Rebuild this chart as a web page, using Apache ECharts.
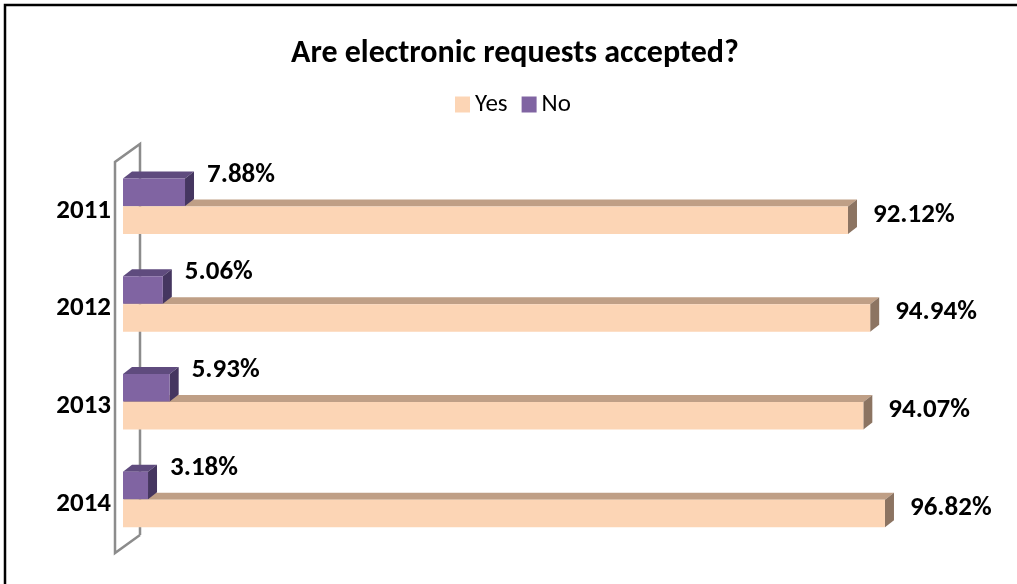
<!DOCTYPE html>
<html>
<head>
<meta charset="utf-8">
<script src="https://cdn.jsdelivr.net/npm/echarts@6/dist/echarts.min.js"></script>
<style>
  html, body { margin: 0; padding: 0; background: #fff; }
  #chart { width: 1017px; height: 584px; }
</style>
</head>
<body>
<div id="chart"></div>
<script>
const categories = ['2011', '2012', '2013', '2014'];
const yesValues = [92.12, 94.94, 94.07, 96.82];
const noValues = [7.88, 5.06, 5.93, 3.18];

const FONT = 'Carlito, Calibri, Lato, "Open Sans", sans-serif';
const DX = 9, DY = -7, H = 27.5;

function boxRender(frontOffset, front, top, side, labelDX, labelDY) {
  return function (params, api) {
    const v = api.value(0);
    const c = api.value(1);
    const p0 = api.coord([0, c]);
    const p1 = api.coord([v, c]);
    const x0 = p0[0], x1 = p1[0];
    const y0 = p0[1] + frontOffset;
    const y1 = y0 + H;
    return {
      type: 'group',
      children: [
        { type: 'polygon', shape: { points: [[x0, y0], [x0 + DX, y0 + DY], [x1 + DX, y0 + DY], [x1, y0]] }, style: { fill: top } },
        { type: 'polygon', shape: { points: [[x1, y0], [x1 + DX, y0 + DY], [x1 + DX, y1 + DY], [x1, y1]] }, style: { fill: side } },
        { type: 'rect', shape: { x: x0, y: y0, width: x1 - x0, height: H }, style: { fill: front } },
        { type: 'text', style: { text: v.toFixed(2) + '%', x: x1 + DX + labelDX, y: p0[1] + labelDY, font: 'bold 27px ' + FONT, fill: '#000', align: 'left', verticalAlign: 'middle' } }
      ]
    };
  };
}

function wallRender(params, api) {
  const cs = params.coordSys;
  const fx = cs.x - 8, bx = cs.x + 17, dy = -18;
  const top = cs.y, bot = cs.y + cs.height;
  return {
    type: 'polyline',
    shape: { points: [[bx, bot + dy], [bx, top + dy], [fx, top], [fx, bot], [bx, bot + dy]] },
    style: { stroke: '#8c8c8c', lineWidth: 2.5, fill: null }
  };
}

const chart = echarts.init(document.getElementById('chart'));
chart.setOption({
  animation: false,
  backgroundColor: '#fff',
  title: {
    text: 'Are electronic requests accepted?',
    left: 286,
    top: 33,
    textStyle: { fontFamily: FONT, fontWeight: 'bold', fontSize: 32, color: '#000' }
  },
  legend: {
    data: ['Yes', 'No'],
    top: 87,
    left: 450,
    icon: 'rect',
    itemWidth: 15,
    itemHeight: 16,
    itemGap: 14,
    textStyle: { fontFamily: FONT, fontSize: 25, color: '#000', padding: [0, 0, 0, 0] }
  },
  grid: { left: 123, right: 107, top: 162, bottom: 31 },
  xAxis: {
    type: 'value', min: 0, max: 100, show: false
  },
  yAxis: {
    type: 'category',
    data: categories,
    inverse: true,
    axisLine: { show: false },
    axisTick: { show: false },
    axisLabel: { margin: 12, fontFamily: FONT, fontWeight: 'bold', fontSize: 27, color: '#000' }
  },
  graphic: [{
    type: 'polyline',
    shape: { points: [[5, 600], [5, 5], [1030, 5]] },
    style: { stroke: '#000', lineWidth: 2.5, fill: null },
    silent: true
  }],
  series: [
    {
      name: 'wall', type: 'custom', renderItem: wallRender,
      data: [[0, categories[0]]], encode: { x: 0, y: 1 }, z: 1, silent: true
    },
    {
      name: 'Yes', type: 'custom',
      itemStyle: { color: '#FCD5B5' },
      renderItem: boxRender(-4.5, '#FCD5B5', '#BF9F86', '#8C7462', 16, 4),
      data: yesValues.map((v, i) => [v, categories[i]]),
      encode: { x: 0, y: 1 }, z: 2
    },
    {
      name: 'No', type: 'custom',
      itemStyle: { color: '#8064A2' },
      renderItem: boxRender(-32.5, '#8064A2', '#5F4B7E', '#453660', 13, -36),
      data: noValues.map((v, i) => [v, categories[i]]),
      encode: { x: 0, y: 1 }, z: 3
    }
  ]
});
</script>
</body>
</html>
